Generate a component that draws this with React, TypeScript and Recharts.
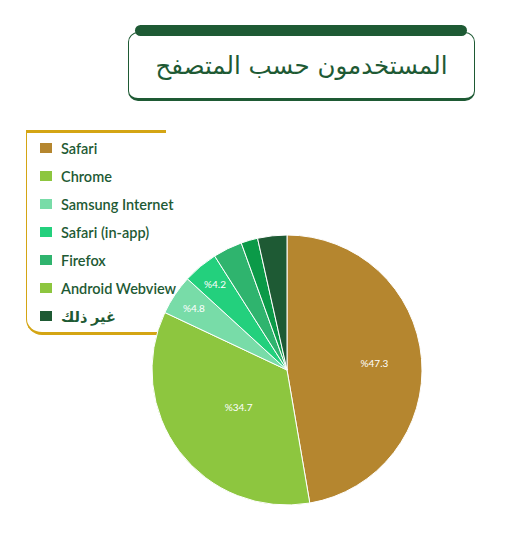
import React from "react";
import { PieChart, Pie, Cell } from "recharts";

const browsers = ["Safari", "Chrome", "Samsung Internet", "Safari (in-app)", "Firefox", "Android Webview", "غير ذلك"];
const shares = [47.3, 34.7, 4.8, 4.2, 3.5, 2.0, 3.5];
const sliceColors = ["#b5862f", "#8dc63f", "#78dca8", "#23d07d", "#2fb46e", "#0b9a48", "#1e5a34"];
const legendColors = ["#b5862f", "#8dc63f", "#78dca8", "#23d07d", "#2fb46e", "#8dc63f", "#1e5a34"];

const data = browsers.map((name, i) => ({ name, value: shares[i] }));

const RAD = Math.PI / 180;

function renderLabel(props: any) {
  const { cx, cy, midAngle, outerRadius, value, percent } = props;
  if (value < 4) return null;
  const f = percent > 0.4 ? 0.65 : percent > 0.1 ? 0.45 : 0.83;
  const r = outerRadius * f;
  const x = cx + r * Math.cos(-midAngle * RAD);
  const y = cy + r * Math.sin(-midAngle * RAD);
  return (
    <text x={x} y={y} fill="#ffffff" fontSize={10} fontFamily="Lato, sans-serif" textAnchor="middle" dominantBaseline="central">
      {`%${value}`}
    </text>
  );
}

function LegendList() {
  return (
    <div style={{ fontFamily: "Lato, 'DejaVu Sans', sans-serif" }}>
      {browsers.map((b, i) => (
        <div key={b} style={{ display: "flex", alignItems: "center", height: 28 }}>
          <span style={{ width: 12, height: 10, background: legendColors[i], marginRight: 9 }} />
          <span style={{ color: "#1e5a34", fontSize: 14.5, fontWeight: 600 }}>{b}</span>
        </div>
      ))}
    </div>
  );
}

export default function App() {
  return (
    <div style={{ position: "fixed", left: 0, top: 0, width: 525, height: 544, background: "#ffffff", overflow: "hidden" }}>
      {/* title box */}
      <div style={{ position: "absolute", left: 135, top: 25, width: 332, height: 11, background: "#1e5a34", borderRadius: 6 }} />
      <div
        style={{
          position: "absolute", left: 128, top: 32, width: 345, height: 65,
          border: "1.5px solid #1e5a34", borderBottomWidth: 3, borderRadius: 10,
          display: "flex", alignItems: "center", justifyContent: "center", whiteSpace: "nowrap",
          color: "#1e5a34", fontFamily: "'DejaVu Sans', sans-serif", fontSize: 24.5, direction: "rtl",
        }}
      >
        المستخدمون حسب المتصفح
      </div>
      {/* legend frame */}
      <div style={{ position: "absolute", left: 26, top: 130, width: 140, height: 3, background: "#d4a514" }} />
      <div
        style={{
          position: "absolute", left: 26, top: 131, width: 200, height: 201,
          borderLeft: "1.5px solid #d4a514", borderBottom: "3px solid #d4a514", borderBottomLeftRadius: 16,
        }}
      />
      <div style={{ position: "absolute", left: 40, top: 134, width: 160 }}>
        <LegendList />
      </div>
      <div style={{ position: "absolute", left: 0, top: 0 }}>
        <PieChart width={525} height={544}>
          <Pie
            data={data}
            dataKey="value"
            nameKey="name"
            cx={282}
            cy={365}
            outerRadius={135}
            startAngle={90}
            endAngle={-270}
            stroke="#ffffff"
            strokeWidth={1}
            label={renderLabel}
            labelLine={false}
            isAnimationActive={false}
          >
            {data.map((d, i) => (
              <Cell key={d.name} fill={sliceColors[i]} />
            ))}
          </Pie>
        </PieChart>
      </div>
    </div>
  );
}
